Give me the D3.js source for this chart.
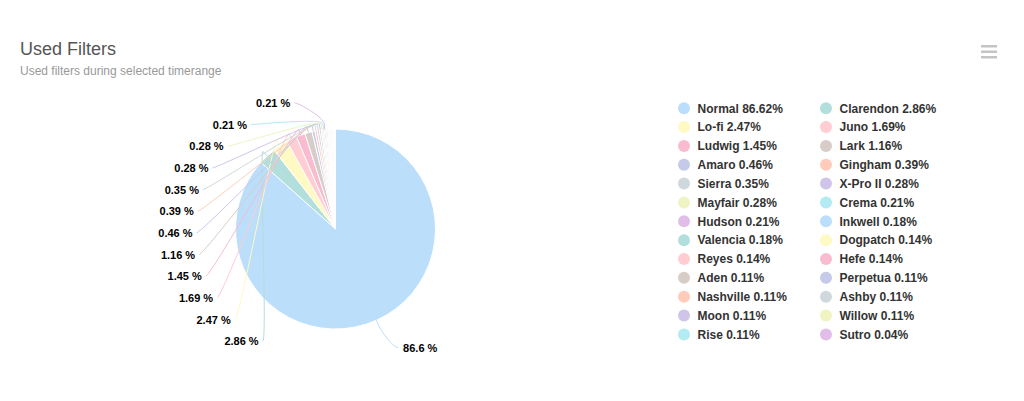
<!DOCTYPE html>
<html>
<head>
<meta charset="utf-8">
<script src="https://cdn.jsdelivr.net/npm/d3@7"></script>
<style>
  html, body { margin: 0; padding: 0; background: #fff; }
  svg { display: block; font-family: "Liberation Sans", Arial, sans-serif; }
</style>
</head>
<body>
<svg id="chart" width="1024" height="401"></svg>
<script>
// ---- data ----
const categories = ["Normal", "Clarendon", "Lo-fi", "Juno", "Ludwig", "Lark", "Amaro", "Gingham",
  "Sierra", "X-Pro II", "Mayfair", "Crema", "Hudson", "Inkwell", "Valencia", "Dogpatch", "Reyes",
  "Hefe", "Aden", "Perpetua", "Nashville", "Ashby", "Moon", "Willow", "Rise", "Sutro"];
const values = [86.62, 2.86, 2.47, 1.69, 1.45, 1.16, 0.46, 0.39, 0.35, 0.28, 0.28, 0.21, 0.21,
  0.18, 0.18, 0.14, 0.14, 0.14, 0.11, 0.11, 0.11, 0.11, 0.11, 0.11, 0.11, 0.04];
const palette = ["#BBDEFB", "#B2DFDB", "#FFF9C4", "#FFCDD2", "#F8BBD0", "#D7CCC8", "#C5CAE9",
  "#FFCCBC", "#CFD8DC", "#D1C4E9", "#F0F4C3", "#B2EBF2", "#E1BEE7"];
const titleText = "Used Filters";
const subtitleText = "Used filters during selected timerange";
const labelMin = 0.2; // data labels shown for slices at or above this share

const data = categories.map((c, i) => ({ name: c, value: values[i], color: palette[i % palette.length] }));

const svg = d3.select("#chart");

// ---- title ----
svg.append("text").attr("x", 20).attr("y", 55).attr("fill", "#555")
  .style("font-size", "18px").text(titleText);
svg.append("text").attr("x", 20).attr("y", 75).attr("fill", "#999")
  .style("font-size", "12px").text(subtitleText);

// menu icon
const menu = svg.append("g").attr("transform", "translate(981,45)");
[0, 5.5, 11].forEach(dy => menu.append("rect").attr("x", 0).attr("y", dy).attr("width", 16)
  .attr("height", 2.5).attr("fill", "#c4c4c4"));

// ---- pie ----
const cx = 335.5, cy = 229, r = 100;
const plotTop = 92, plotBottom = 352;
const ellRx = 143, ellRy = 133;

const pie = d3.pie().sort(null).value(d => d.value).startAngle(0).endAngle(2 * Math.PI);
const arcs = pie(data);
const arc = d3.arc().innerRadius(0).outerRadius(r);

const g = svg.append("g");
g.selectAll("path.slice").data(arcs).enter().append("path")
  .attr("class", "slice")
  .attr("transform", `translate(${cx},${cy})`)
  .attr("d", arc)
  .attr("fill", d => d.data.color)
  .attr("stroke", "#fff")
  .attr("stroke-width", 1)
  .attr("stroke-linejoin", "round");

// ---- data labels ----
const pt = (a, rad) => [cx + rad * Math.sin(a), cy - rad * Math.cos(a)];
const labeled = arcs.filter(d => d.data.value >= labelMin).map(d => {
  const mid = (d.startAngle + d.endAngle) / 2;
  return { d, mid, left: mid > Math.PI };
});
const fmt = v => v >= 10 ? v.toFixed(1) : v.toFixed(2);

const lefts = labeled.filter(l => l.left).sort((a, b) => a.mid - b.mid);
const rights = labeled.filter(l => !l.left);
const spacing = (plotBottom - plotTop) / lefts.length;
lefts.forEach((l, i) => { l.y = plotBottom - (i + 0.5) * spacing; });
rights.forEach(l => { l.y = cy - (r + 30) * Math.cos(l.mid); });
labeled.forEach(l => {
  const dy = Math.max(-ellRy, Math.min(ellRy, l.y - cy));
  const dx = ellRx * Math.sqrt(1 - (dy / ellRy) * (dy / ellRy));
  l.x = l.left ? cx - dx : cx + dx;
});

const lab = svg.append("g");
labeled.forEach(l => {
  const touch = pt(l.mid, r);
  const brk = pt(l.mid, r + 6);
  const sx = l.left ? l.x + 4 : l.x - 2;
  const c1x = l.left ? sx + 5 : sx - 5;
  const p = d3.path();
  p.moveTo(sx, l.y);
  p.bezierCurveTo(c1x, l.y, 2 * brk[0] - touch[0], 2 * brk[1] - touch[1], brk[0], brk[1]);
  p.lineTo(touch[0], touch[1]);
  lab.append("path").attr("d", p.toString()).attr("fill", "none")
    .attr("stroke", l.d.data.color).attr("stroke-width", 1);
});
labeled.forEach(l => {
  lab.append("text")
    .attr("x", l.left ? l.x : l.x + 3)
    .attr("y", l.y + 4)
    .attr("text-anchor", l.left ? "end" : "start")
    .attr("fill", "#000")
    .style("font-size", "11px").style("font-weight", "bold")
    .text(fmt(l.d.data.value) + " %");
});

// ---- legend ----
const legend = svg.append("g");
const colX = [684, 826];
const rowY0 = 108.2, rowH = 18.85;
data.forEach((d, i) => {
  const col = i % 2, row = Math.floor(i / 2);
  const y = rowY0 + row * rowH;
  legend.append("circle").attr("cx", colX[col]).attr("cy", y).attr("r", 6).attr("fill", d.color);
  legend.append("text").attr("x", colX[col] + 13.5).attr("y", y + 4.3)
    .attr("fill", "#333").style("font-size", "12px").style("font-weight", "bold")
    .text(`${d.name} ${d.value.toFixed(2)}%`);
});
</script>
</body>
</html>
